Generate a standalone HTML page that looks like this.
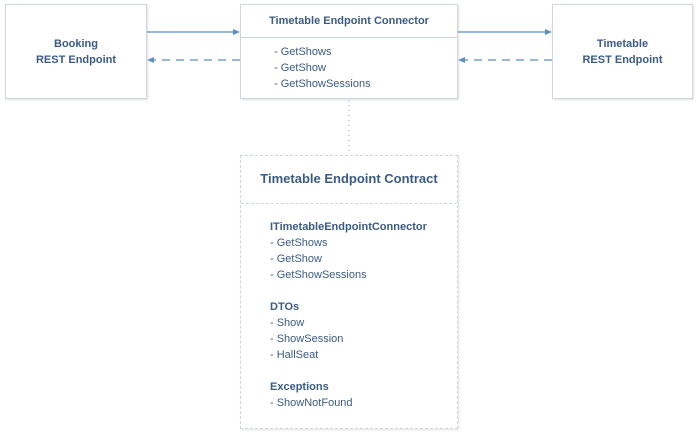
<!DOCTYPE html>
<html><head><style>
body{margin:0;width:699px;height:443px;background:#fff;position:relative;font-family:"Liberation Sans",sans-serif;color:#3b5b84;overflow:hidden}
.b{position:absolute;box-sizing:border-box;border:1px solid #cfd6de;background:#fff;box-shadow:1px 1px 2px rgba(0,0,0,0.12)}
.t{position:absolute;font-size:11px;line-height:16px;white-space:nowrap}
.bold{font-weight:bold}
</style></head><body>
<div class="b" style="left:5px;top:4px;width:142px;height:95px"></div>
<div class="t bold" style="left:5px;width:142px;top:36px;text-align:center">Booking<br>REST Endpoint</div>
<div class="b" style="left:552px;top:4px;width:141px;height:95px"></div>
<div class="t bold" style="left:552px;width:141px;top:36px;text-align:center">Timetable<br>REST Endpoint</div>
<div class="b" style="left:240px;top:4px;width:218px;height:95px"></div>
<div style="position:absolute;left:241px;top:37px;width:216px;height:1px;background:#cfd6de"></div>
<div class="t bold" style="left:240px;width:218px;top:13px;text-align:center">Timetable Endpoint Connector</div>
<div class="t" style="left:274px;top:44px">- GetShows<br>- GetShow<br>- GetShowSessions</div>
<div class="b" style="left:240px;top:155px;width:218px;height:274px;border:1px dashed #cfd6de"></div>
<div style="position:absolute;left:241px;top:203px;width:216px;border-top:1px dashed #cfd6de"></div>
<div class="t bold" style="left:240px;width:218px;top:171px;text-align:center;font-size:13px">Timetable Endpoint Contract</div>
<div class="t" style="left:270px;top:219px"><span class="bold">ITimetableEndpointConnector</span><br>- GetShows<br>- GetShow<br>- GetShowSessions<br><br><span class="bold">DTOs</span><br>- Show<br>- ShowSession<br>- HallSeat<br><br><span class="bold">Exceptions</span><br>- ShowNotFound</div>
<svg width="699" height="443" style="position:absolute;left:0;top:0">
<g stroke="#5b8fc7" stroke-width="1.2" fill="none">
<line x1="147" y1="32" x2="234" y2="32"/>
<line x1="240" y1="60" x2="153" y2="60" stroke-dasharray="8,6"/>
<line x1="458" y1="32" x2="546" y2="32"/>
<line x1="552" y1="60" x2="464" y2="60" stroke-dasharray="8,6"/>
<line x1="349" y1="100" x2="349" y2="155" stroke="#aab4c0" stroke-dasharray="1,4"/>
</g>
<g fill="#5b8fc7">
<polygon points="240,32 233,29 233,35"/>
<polygon points="147,60 154,57 154,63"/>
<polygon points="552,32 545,29 545,35"/>
<polygon points="458,60 465,57 465,63"/>
</g>
</svg>
</body></html>
